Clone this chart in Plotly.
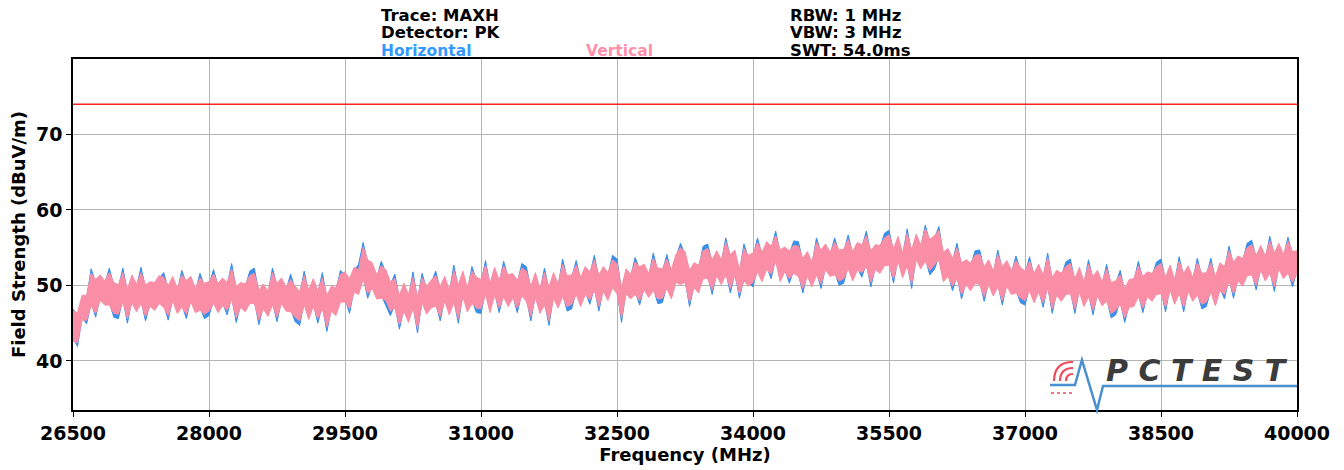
import plotly.graph_objects as go

f_start = 26500
f_step = 50

# Envelope (max / min) of each MAXH trace per 50 MHz
vertical_upper = [
    46.6, 46.4, 48.7, 48.7, 51.6, 50.8, 51.4, 50.6, 51.7, 50.4,
    50.1, 51.7, 49.5, 51.4, 50.2, 51.7, 50.1, 50.5, 50.4, 51.3,
    51.1, 50.0, 51.2, 49.6, 51.4, 50.7, 51.2, 49.6, 51.0, 50.3,
    50.5, 51.5, 50.3, 51.0, 50.4, 52.2, 49.9, 50.4, 50.2, 51.3,
    51.6, 49.4, 50.2, 49.2, 51.7, 50.3, 51.0, 49.8, 50.8, 49.9,
    49.2, 51.3, 49.4, 50.9, 49.3, 51.0, 48.7, 49.9, 49.7, 51.5,
    51.8, 50.9, 52.4, 52.1, 55.1, 53.4, 53.0, 51.4, 52.6, 52.1,
    50.5, 50.9, 48.7, 50.3, 48.8, 51.1, 48.5, 51.0, 49.9, 50.7,
    51.3, 49.9, 51.2, 49.4, 52.0, 50.1, 51.9, 49.7, 51.9, 51.1,
    50.8, 52.7, 50.3, 52.4, 50.7, 52.6, 51.4, 51.6, 50.7, 52.3,
    51.9, 49.9, 51.7, 49.6, 51.7, 49.8, 51.7, 50.2, 52.8, 51.3,
    51.4, 52.7, 51.1, 52.5, 51.8, 53.4, 51.4, 52.5, 51.7, 53.4,
    52.9, 49.7, 52.2, 51.5, 53.1, 52.5, 52.8, 51.6, 53.6, 52.3,
    52.2, 53.5, 52.1, 54.1, 55.0, 54.5, 52.0, 53.0, 52.7, 54.6,
    54.9, 53.4, 54.6, 53.4, 55.7, 54.1, 54.7, 52.1, 54.9, 54.0,
    54.3, 55.7, 54.4, 55.8, 55.2, 56.6, 54.7, 55.1, 54.6, 55.3,
    55.2, 53.6, 54.5, 53.1, 55.7, 54.7, 55.5, 54.4, 55.7, 54.7,
    54.8, 56.1, 54.5, 55.7, 55.4, 56.6, 54.6, 55.4, 55.3, 56.3,
    56.7, 54.9, 56.5, 54.3, 56.9, 54.7, 56.8, 55.4, 57.5, 56.1,
    56.6, 57.3, 54.4, 54.9, 53.6, 55.0, 53.0, 53.4, 53.0, 54.0,
    54.1, 52.5, 53.4, 51.9, 54.1, 52.5, 53.3, 52.0, 53.3, 52.4,
    51.9, 53.2, 51.6, 52.8, 51.4, 53.7, 51.1, 52.0, 51.6, 52.5,
    52.9, 50.9, 52.4, 50.5, 52.8, 51.2, 52.0, 50.5, 52.2, 50.4,
    50.6, 51.4, 49.6, 50.8, 50.9, 52.6, 51.2, 51.8, 51.6, 52.5,
    52.9, 51.1, 52.7, 50.8, 53.2, 51.6, 52.6, 51.1, 53.0, 51.6,
    51.7, 53.0, 51.2, 53.0, 52.5, 54.6, 53.1, 53.9, 53.6, 55.0,
    55.4, 54.0, 55.3, 53.9, 55.9, 54.3, 55.6, 54.1, 55.9, 54.5,
    54.6,
]

vertical_lower = [
    42.6, 42.4, 45.4, 45.4, 47.3, 46.3, 48.0, 47.4, 47.4, 46.3,
    46.2, 47.8, 45.6, 47.7, 46.5, 47.6, 45.9, 47.2, 46.7, 47.6,
    47.1, 46.0, 47.9, 46.3, 47.1, 46.2, 47.8, 46.4, 46.7, 46.2,
    46.6, 47.6, 46.4, 47.3, 46.7, 48.1, 45.7, 47.1, 46.5, 47.6,
    47.6, 45.4, 46.9, 45.9, 47.4, 45.8, 47.6, 46.6, 46.5, 45.8,
    45.3, 47.4, 45.5, 47.2, 45.6, 46.9, 44.5, 46.6, 46.0, 47.8,
    47.8, 46.9, 49.1, 48.8, 50.8, 48.9, 49.6, 48.2, 48.3, 48.0,
    46.6, 47.0, 44.8, 46.6, 45.1, 47.0, 44.3, 47.7, 46.2, 47.0,
    47.3, 45.9, 47.9, 46.1, 47.7, 45.6, 48.5, 46.5, 47.6, 47.0,
    46.9, 48.8, 46.4, 48.7, 47.0, 48.5, 47.2, 48.3, 47.0, 48.6,
    47.9, 45.9, 48.4, 46.3, 47.4, 45.3, 48.3, 47.0, 48.5, 47.2,
    47.5, 48.8, 47.2, 48.8, 48.1, 49.3, 47.2, 49.2, 48.0, 49.7,
    48.9, 45.7, 48.9, 48.2, 48.8, 48.0, 49.4, 48.4, 49.3, 48.2,
    48.3, 49.6, 48.2, 50.4, 50.1, 50.4, 47.8, 49.7, 49.0, 50.9,
    50.9, 49.4, 51.3, 50.1, 51.4, 49.6, 51.3, 48.9, 50.6, 49.9,
    50.4, 51.8, 50.5, 52.1, 51.5, 53.2, 50.5, 51.8, 50.9, 51.6,
    51.2, 49.6, 51.2, 49.8, 51.4, 50.2, 52.1, 51.2, 51.4, 50.6,
    50.9, 52.2, 50.6, 52.0, 51.7, 52.5, 50.4, 52.1, 51.6, 52.6,
    52.7, 50.9, 53.2, 51.0, 52.6, 50.2, 53.4, 52.2, 53.2, 52.0,
    52.7, 53.4, 50.5, 51.2, 49.9, 50.9, 48.8, 50.1, 49.3, 50.3,
    50.1, 48.5, 50.1, 48.6, 49.8, 48.0, 49.9, 48.8, 49.0, 48.3,
    48.0, 49.3, 47.7, 49.1, 47.7, 49.6, 46.9, 48.7, 47.9, 48.8,
    48.9, 46.9, 49.1, 47.2, 48.5, 46.7, 48.6, 47.3, 47.9, 46.3,
    46.7, 47.5, 45.7, 47.1, 47.2, 48.5, 47.0, 48.5, 47.9, 48.8,
    48.9, 47.1, 49.4, 47.5, 48.9, 47.1, 49.2, 47.9, 48.7, 47.5,
    47.8, 49.1, 47.3, 49.3, 48.8, 50.5, 48.9, 50.6, 49.9, 51.3,
    51.4, 50.0, 52.0, 50.6, 51.6, 49.8, 52.2, 50.9, 51.6, 50.4,
    51.6,
]

horizontal_upper = [
    46.9, 46.0, 48.3, 48.3, 52.2, 50.4, 51.0, 50.2, 52.3, 50.0,
    49.7, 52.3, 49.1, 51.0, 49.8, 52.4, 49.7, 50.1, 50.0, 50.9,
    51.7, 49.6, 50.8, 49.2, 52.0, 50.3, 50.8, 49.2, 51.6, 49.9,
    50.1, 52.1, 49.9, 50.6, 50.0, 52.9, 49.5, 50.0, 49.8, 51.9,
    52.3, 49.0, 49.8, 48.8, 52.3, 49.9, 50.6, 49.4, 51.5, 49.5,
    48.8, 51.9, 49.0, 50.5, 48.9, 51.7, 48.3, 49.5, 49.3, 52.0,
    51.4, 50.5, 52.0, 52.8, 55.7, 53.0, 52.6, 51.0, 53.2, 51.7,
    50.1, 51.5, 48.3, 49.9, 48.4, 51.8, 48.1, 51.6, 49.5, 50.3,
    51.9, 49.5, 50.8, 49.0, 52.7, 49.7, 51.5, 49.3, 52.5, 50.7,
    50.4, 53.3, 49.9, 52.0, 50.3, 53.2, 51.0, 51.2, 50.3, 52.9,
    52.5, 49.5, 51.3, 49.2, 52.3, 49.4, 51.3, 49.8, 53.5, 50.9,
    51.0, 53.3, 50.7, 52.1, 51.4, 54.0, 51.0, 52.1, 51.3, 54.0,
    53.5, 49.3, 51.8, 51.1, 53.7, 52.1, 52.4, 51.2, 54.3, 51.9,
    51.8, 54.1, 51.7, 53.7, 55.6, 54.1, 51.6, 52.6, 52.3, 55.2,
    55.5, 53.0, 54.2, 53.0, 56.3, 53.7, 54.3, 51.7, 55.5, 53.6,
    53.9, 56.3, 54.0, 55.4, 54.8, 57.2, 54.3, 54.7, 54.2, 55.9,
    55.8, 53.2, 54.1, 52.7, 56.3, 54.3, 55.1, 54.0, 56.3, 54.3,
    54.4, 56.7, 54.1, 55.3, 55.0, 57.2, 54.2, 55.0, 54.9, 56.9,
    57.3, 54.5, 56.1, 53.9, 57.5, 54.3, 56.4, 55.0, 58.0, 55.7,
    56.2, 57.8, 54.0, 54.5, 53.2, 55.6, 52.6, 53.0, 52.6, 54.6,
    54.7, 52.1, 53.0, 51.5, 54.7, 52.1, 52.9, 51.6, 53.9, 52.0,
    51.5, 53.8, 51.2, 52.4, 51.0, 54.3, 50.7, 51.6, 51.2, 53.1,
    53.5, 50.5, 52.0, 50.1, 53.4, 50.8, 51.6, 50.1, 52.8, 50.0,
    50.2, 52.0, 49.2, 50.4, 50.5, 53.2, 50.8, 51.4, 51.2, 53.1,
    53.5, 50.7, 52.3, 50.4, 53.8, 51.2, 52.2, 50.7, 53.6, 51.2,
    51.3, 53.6, 50.8, 52.6, 52.1, 55.2, 52.7, 53.5, 53.2, 55.6,
    56.0, 53.6, 54.9, 53.5, 56.5, 53.9, 55.2, 53.7, 56.4, 54.1,
    54.2,
]

horizontal_lower = [
    43.0, 41.9, 45.8, 44.9, 47.7, 45.8, 48.4, 47.8, 47.8, 45.8,
    45.6, 48.2, 45.0, 48.1, 46.9, 48.0, 45.3, 47.6, 47.1, 48.0,
    47.5, 45.4, 48.3, 46.7, 47.5, 45.6, 48.2, 46.8, 47.1, 45.6,
    46.0, 48.0, 46.8, 47.7, 46.1, 48.5, 45.1, 47.5, 46.9, 48.0,
    48.0, 44.8, 47.3, 46.3, 47.8, 45.2, 48.0, 47.0, 46.9, 45.2,
    44.7, 47.8, 45.9, 47.6, 45.0, 47.3, 43.9, 47.0, 46.4, 48.2,
    48.2, 46.3, 49.5, 49.2, 51.2, 48.3, 50.0, 48.6, 48.7, 47.4,
    46.0, 47.4, 44.2, 47.0, 45.5, 47.4, 43.7, 48.1, 46.6, 47.4,
    47.7, 45.3, 48.3, 46.5, 48.1, 45.0, 48.9, 46.9, 48.0, 46.4,
    46.3, 49.2, 46.8, 49.1, 46.4, 48.9, 47.6, 48.7, 46.4, 49.0,
    48.3, 45.3, 48.8, 46.7, 47.8, 44.7, 48.7, 47.4, 48.9, 46.6,
    46.9, 49.2, 47.6, 49.2, 47.5, 49.7, 46.6, 49.6, 48.4, 50.1,
    49.3, 45.1, 49.3, 48.6, 49.2, 47.4, 49.8, 48.8, 49.7, 47.6,
    47.7, 50.0, 48.6, 50.8, 50.5, 50.8, 47.2, 50.1, 49.4, 51.3,
    51.3, 48.8, 51.7, 50.5, 51.8, 49.0, 51.7, 48.3, 51.0, 50.3,
    49.8, 52.2, 50.9, 52.5, 50.9, 53.6, 50.9, 52.2, 50.3, 52.0,
    51.6, 49.0, 51.6, 50.2, 51.8, 49.6, 52.5, 51.6, 51.8, 50.0,
    50.3, 52.6, 51.0, 52.4, 51.1, 52.9, 49.8, 52.5, 52.0, 53.0,
    53.1, 50.3, 53.6, 51.4, 53.0, 49.6, 53.8, 52.6, 53.6, 51.4,
    52.1, 53.8, 50.9, 51.6, 49.3, 51.3, 48.2, 50.5, 49.7, 50.7,
    50.5, 47.9, 50.5, 49.0, 50.2, 47.4, 50.3, 49.2, 49.4, 47.7,
    47.4, 49.7, 48.1, 49.5, 47.1, 50.0, 46.3, 49.1, 48.3, 49.2,
    49.3, 46.3, 49.5, 47.6, 48.9, 46.1, 49.0, 47.7, 48.3, 45.7,
    46.1, 47.9, 45.1, 47.5, 47.6, 48.9, 46.4, 48.9, 48.3, 49.2,
    49.3, 46.5, 49.8, 47.9, 49.3, 46.5, 49.6, 48.3, 49.1, 46.9,
    47.2, 49.5, 47.7, 49.7, 48.2, 50.9, 48.3, 51.0, 50.3, 51.7,
    51.8, 49.4, 52.4, 51.0, 52.0, 49.2, 52.6, 51.3, 52.0, 49.8,
    52.0,
]

limit_dbuv = 74
x_range = [26500, 40000]
y_range = [33.5, 80]
x_ticks = [26500, 28000, 29500, 31000, 32500, 34000, 35500, 37000, 38500, 40000]
y_ticks = [40, 50, 60, 70]

freqs = [f_start + f_step * i for i in range(len(vertical_upper))]

BLUE = "#3a8fe8"
PINK = "#f98ea6"
FONT = "DejaVu Sans"

fig = go.Figure()
fig.add_trace(go.Scatter(x=freqs, y=horizontal_lower, mode="lines",
                         line=dict(color=BLUE, width=1), hoverinfo="skip"))
fig.add_trace(go.Scatter(x=freqs, y=horizontal_upper, mode="lines", fill="tonexty",
                         fillcolor=BLUE, line=dict(color=BLUE, width=1), name="Horizontal"))
fig.add_trace(go.Scatter(x=freqs, y=vertical_lower, mode="lines",
                         line=dict(color=PINK, width=1), hoverinfo="skip"))
fig.add_trace(go.Scatter(x=freqs, y=vertical_upper, mode="lines", fill="tonexty",
                         fillcolor=PINK, line=dict(color=PINK, width=1), name="Vertical"))
fig.add_trace(go.Scatter(x=x_range, y=[limit_dbuv, limit_dbuv], mode="lines",
                         line=dict(color="#ff2020", width=1.6), name="Limit"))

axis_common = dict(showline=True, linecolor="black", linewidth=1.5, mirror=True,
                   ticks="outside", ticklen=5, tickwidth=1.2, tickcolor="black",
                   showgrid=True, gridcolor="#b4b4b4", gridwidth=1, zeroline=False,
                   tickfont=dict(family=FONT, size=19, color="black", weight="bold"))

fig.update_xaxes(range=x_range, tickvals=x_ticks, ticktext=[str(t) for t in x_ticks],
                 title=dict(text="<b>Frequency (MHz)</b>", font=dict(family=FONT, size=18, color="black"),
                            standoff=3), **axis_common)
fig.update_yaxes(range=y_range, tickvals=y_ticks, ticktext=[str(t) for t in y_ticks],
                 title=dict(text="<b>Field Strength (dBuV/m)</b>", font=dict(family=FONT, size=18, color="black"),
                            standoff=6), **axis_common)

# plot area in page pixels: x 73..1297, y 59..410
def py(p):
    return (410 - p) / 351
def px(p):
    return (p - 73) / 1224

ann = []
def header(text, xp, yp, color="black", size=16.5):
    ann.append(dict(text="<b>" + text + "</b>", xref="paper", yref="paper", x=xp, y=yp,
                    xanchor="left", yanchor="middle", showarrow=False, borderpad=0,
                    font=dict(family=FONT, size=size, color=color)))

header("Trace: MAXH", px(380), py(15))
header("Detector: PK", px(380), py(33))
header("Horizontal", px(380), py(51), color="#3399ff", size=15.5)
header("Vertical", px(585), py(51), color="#ff8fab", size=15.5)
header("RBW: 1 MHz", px(789), py(15))
header("VBW: 3 MHz", px(789), py(33))
header("SWT: 54.0ms", px(789), py(51))

# PCTEST logo (decoration)
ann.append(dict(text="<b><i>P C T E S T</i></b>", xref="paper", yref="paper",
                x=px(1197), y=py(370), xanchor="center", yanchor="middle", showarrow=False,
                font=dict(family=FONT, size=30, color="#3c3c3c")))

shapes = []
pts = [(1050, 385), (1075, 385), (1082, 360), (1097, 410), (1103, 386), (1297, 386)]
path = "M " + " L ".join(f"{px(a):.4f},{py(b):.4f}" for a, b in pts)
shapes.append(dict(type="path", xref="paper", yref="paper", path=path,
                   line=dict(color="#4a8fd0", width=2.5)))
cx, cy = 1073, 381
for r in (7, 13, 19):
    p = (f"M {px(cx - r):.4f},{py(cy):.4f} Q {px(cx - r):.4f},{py(cy - r):.4f} "
         f"{px(cx):.4f},{py(cy - r):.4f}")
    shapes.append(dict(type="path", xref="paper", yref="paper", path=p,
                       line=dict(color="#ee4a5a", width=2.2)))
shapes.append(dict(type="line", xref="paper", yref="paper", x0=px(1051), x1=px(1073),
                   y0=py(393), y1=py(393), line=dict(color="#ee4a5a", width=1.5, dash="dot")))

fig.update_layout(width=1344, height=470,
                  margin=dict(l=73, r=47, t=59, b=60),
                  paper_bgcolor="white", plot_bgcolor="white", showlegend=False,
                  annotations=ann, shapes=shapes)

fig.write_html("out.html", config={"displayModeBar": False},
               post_script="document.body.style.margin='0';document.body.style.overflow='hidden';")
